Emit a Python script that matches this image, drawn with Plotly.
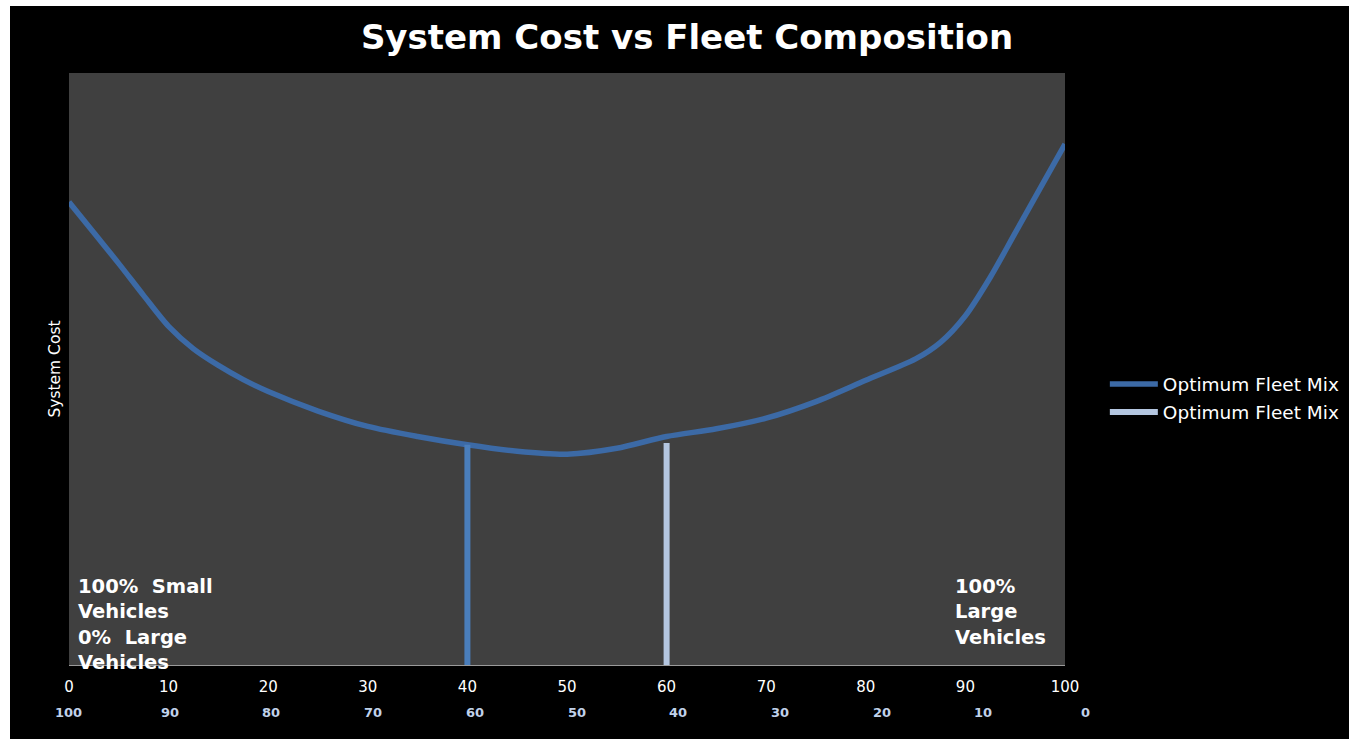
import plotly.graph_objects as go

# ---- data ----
share_small = [0, 2.5, 5, 7.5, 10, 12.5, 15, 17.5, 20, 25, 30, 35, 40, 45, 50, 55,
               60, 65, 70, 75, 80, 85, 87.5, 90, 92.5, 95, 97.5, 100]
system_cost = [78.2, 73.0, 67.8, 62.4, 57.2, 53.4, 50.6, 48.2, 46.2, 42.9, 40.3,
               38.6, 37.2, 36.1, 35.6, 36.6, 38.6, 39.9, 41.7, 44.5, 48.1, 51.7,
               54.5, 59.0, 65.5, 73.0, 80.5, 88.0]
optimum_a_x = [40, 40]
optimum_a_y = [0, 37.2]
optimum_b_x = [60, 60]
optimum_b_y = [0, 37.5]
top_ticks = [0, 10, 20, 30, 40, 50, 60, 70, 80, 90, 100]
bottom_labels = [100, 90, 80, 70, 60, 50, 40, 30, 20, 10, 0]

W, H = 1339, 733
ML, MR, MT, MB = 59, 284, 67, 74
PW = W - ML - MR

# second row of labels is spaced slightly wider than the axis (as in the source)
ROW2_START_PX = -1.0     # offset of first label from plot left edge
ROW2_STEP_PX = 101.7     # spacing between labels

fig = go.Figure()
fig.add_trace(go.Scatter(
    x=share_small, y=system_cost, mode="lines", name="Optimum Fleet Mix",
    line=dict(color="#3c6aa6", width=5.5, shape="spline", smoothing=0.8),
    legendgroup="a", hoverinfo="skip"))
fig.add_trace(go.Scatter(
    x=optimum_a_x, y=optimum_a_y, mode="lines", name="Optimum Fleet Mix",
    line=dict(color="#4a7ebb", width=6), showlegend=False, legendgroup="a",
    hoverinfo="skip"))
fig.add_trace(go.Scatter(
    x=optimum_b_x, y=optimum_b_y, mode="lines", name="Optimum Fleet Mix",
    line=dict(color="#b4c6e0", width=6), legendgroup="b", hoverinfo="skip"))

annotations = []
for i, lab in enumerate(bottom_labels):
    annotations.append(dict(
        x=(ROW2_START_PX + i * ROW2_STEP_PX) / PW, y=-(712 - 665) / 592,
        xref="paper", yref="paper", text=f"<b>{lab}</b>", showarrow=False,
        xanchor="center", yanchor="middle",
        font=dict(family="DejaVu Sans", size=13, color="#c0d2ea")))

annotations.append(dict(
    x=0.007, y=0.068, xref="paper", yref="paper",
    text="<b>100%  Small<br>Vehicles<br>0%  Large<br>Vehicles</b>",
    showarrow=False, xanchor="left", yanchor="middle", align="left",
    font=dict(family="DejaVu Sans", size=19.5, color="white")))
annotations.append(dict(
    x=0.888, y=0.089, xref="paper", yref="paper",
    text="<b>100%<br>Large<br>Vehicles</b>",
    showarrow=False, xanchor="left", yanchor="middle", align="left",
    font=dict(family="DejaVu Sans", size=19.5, color="white")))

fig.update_layout(
    width=W, height=H,
    margin=dict(l=ML, r=MR, t=MT, b=MB, autoexpand=False),
    paper_bgcolor="black", plot_bgcolor="#404040",
    title=dict(text="<b>System Cost vs Fleet Composition</b>",
               x=0.5056, xref="container", xanchor="center",
               y=1 - 31 / H, yref="container", yanchor="middle",
               font=dict(family="DejaVu Sans", size=34, color="white")),
    xaxis=dict(range=[0, 100], tickvals=top_ticks, showgrid=False,
               zeroline=False, showline=True, linecolor="#9a9a9a", linewidth=1,
               ticks="", ticklabelstandoff=8,
               tickfont=dict(family="DejaVu Sans", size=15, color="white")),
    yaxis=dict(range=[0, 100], showgrid=False, zeroline=False,
               showticklabels=False, ticks="",
               title=dict(text="System Cost", standoff=3,
                          font=dict(family="DejaVu Sans", size=15.5, color="white"))),
    legend=dict(x=1.040, y=(665 - 398.5) / 592, xanchor="left", yanchor="middle",
                bgcolor="rgba(0,0,0,0)", tracegroupgap=1, itemwidth=48,
                font=dict(family="DejaVu Sans", size=18.5, color="white")),
    annotations=annotations,
    showlegend=True,
)

fig.write_html(
    "out.html",
    post_script="document.documentElement.style.overflow='hidden';"
                "document.body.style.overflow='hidden';"
                "document.body.style.background='white';"
                "document.body.style.margin='6px 0 0 10px';")
